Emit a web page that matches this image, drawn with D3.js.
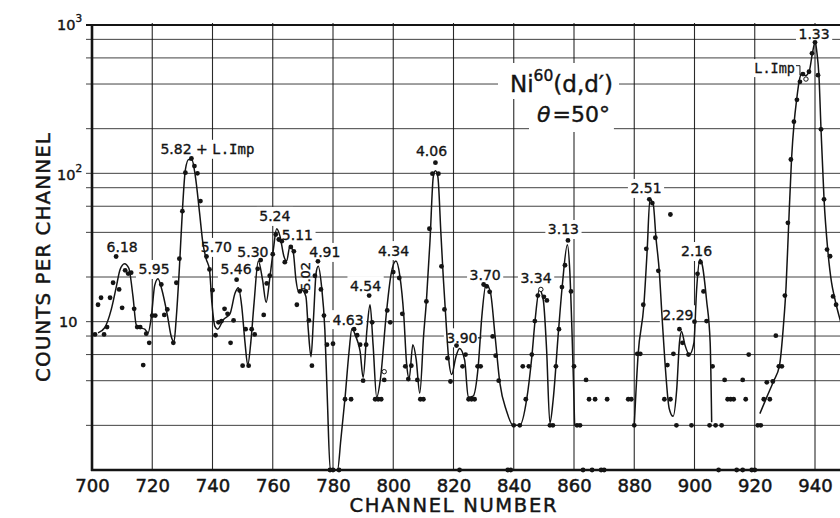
<!DOCTYPE html>
<html><head><meta charset="utf-8">
<script src="https://cdn.jsdelivr.net/npm/d3@7"></script>
<style>body{margin:0;background:#fff}svg{display:block}</style>
</head><body>
<svg id="c" width="840" height="518"></svg>
<script>
// ---------------- data ----------------
const xTicks = [700,720,740,760,780,800,820,840,860,880,900,920,940];
const yGrid = [2,4,6,8,10,20,40,60,80,100,200,400,600,800,1000];
const yLabels = [{v:10,t:"10",sup:""},{v:100,t:"10",sup:"2"},{v:1000,t:"10",sup:"3"}];

// measured counts per channel [channel, counts]
const dots = [
[701,8.2],[702,13],[703,14.5],[704,8.2],[705,9.2],[706,14.5],[707,18.3],[708,27.5],[709,16.5],[710,12.4],
[711,22.2],[712,21.1],[713,21.4],[714,12.2],[715,9.2],[716,9.2],[717,5.1],[718,8.3],[719,7.2],[720,11],
[721,11],[723,17.8],[724,11.1],[725,12.1],[727,7.2],[728,18.3],[729,26.6],[730,55.6],[731,101],[733,126],
[734,112],[735,100],[736,65],[738,27.5],[739,22.5],[740,16.3],[741,8.1],[742,9.9],[743,10.1],[744,12.2],
[745,11.3],[746,7.2],[747,10.2],[748,19.2],[749,16.2],[750,5.05],[751,8.9],[752,5.05],[753,8.9],[754,8.2],
[755,22.7],[756,26],[757,11.1],[758,18.1],[759,20.4],[760,28.5],[761,38.7],[762,35.8],[763,34.9],[764,25.2],
[766,31.9],[767,29.8],[768,13],[769,16],[771,16],[772,10.2],[773,5.05],[774,20.4],[775,25.5],[776,16.5],
[777,11],[778,7],[779,1],[780,1],[780,7.1],[782,1],[784,3],[786,3],[787,8.9],[788,8.1],[789,7],[790,4],
[791,7],[792,15],[793,9.9],[794,3],[795,3],[796,3],[797,4.05],[798,11.9],[799,9.9],[800,21.6],[802,19.7],
[803,11.3],[804,5],[805,4.1],[806,5.05],[808,4.05],[809,3],[810,3],[811,13.7],[812,42.3],[813,99.5],
[814,118],[815,99.5],[816,23.6],[817,12.1],[818,5.67],[819,3.95],[821,6.9],[822,1],[823,5],[824,6],
[825,3],[826,3],[827,3],[828,5],[829,5],[830,17.8],[831,17.3],[832,15.9],[833,7.95],[834,5.9],[835,4],
[838,1],[839,1],[840,2],[842,2],[843,5],[844,3],[845,5],[846,6],[847,10.1],[848,15],[850,14.7],[851,13.9],
[852,2],[853,2],[854,5],[855,8.9],[856,17.1],[857,24],[858,35.3],[859,16],[860,5],[861,2],[862,2],[863,1],
[864,4.05],[865,3],[866,1],[867,3],[869,1],[870,1],[871,3],[878,3],[879,3],[880,2],[881,6.07],[882,6.07],
[883,13],[884,31],[885,66.8],[886,63],[887,36.8],[888,22],[890,3],[891,5.1],[892,3],[892,52.8],[893,6.07],
[894,2],[895,8.9],[896,7.2],[898,6],[899,2],[900,10],[901,21],[902,25.2],[903,16],[904,10.1],[905,2],
[906,5],[907,2],[908,1],[909,2],[910,4.05],[911,3],[912,3],[913,3],[914,1],[916,1],[916,4.05],[917,3],
[918,6],[919,1],[920,1],[921,2],[922,2],[923,3],[924,3.9],[925,3],[926,3.95],[927,8.05],[928,5],[929,5],
[930,15],[931,46.4],[932,124],[933,223],[934,313],[935,414],[936,467],[938,484],[939,644],[940,764],
[941,459],[942,198],[943,66.8],[944,30.6],[945,27.6],[946,14.8],[947,13]
];
// open circles
const openDots = [[797,4.6],[849,16.5],[937,432]];

// hand-drawn fit curve, three pieces [channel, counts]
const curve1 = [
[702,8.4],[704.2,9.1],[706.4,12.1],[708.1,17.3],[709.3,22.4],[710.8,24.6],[712.2,23],[713.6,14.8],[714.7,9.5],
[716,9.1],[717.5,8.9],[718.6,8.4],[719.7,10.8],[720.8,17.5],[721.9,19.5],[723.2,16.4],[725,11.1],[726.3,7.95],
[727.2,7.3],[728,10.8],[729.1,24.9],[730,55.6],[731,106],[732.1,124],[733.2,123],[734.3,95.7],[735.7,54.3],
[736.8,34],[737.9,26.5],[739,22.4],[739.8,13.4],[740.8,9.3],[741.7,8.9],[743.6,10.3],[745.8,11.3],[747.5,15.6],
[748.6,16.9],[749.7,12.7],[750.8,7.2],[751.7,5.1],[752.7,7.2],[753.8,13.4],[755.2,25.6],[756.6,19.2],
[757.8,13.5],[759.1,20.3],[760.2,30.6],[761.3,42.3],[762.4,37.7],[763.7,27.6],[764.6,25.6],[765.7,32.3],
[766.8,29.4],[767.7,19.2],[768.5,16],[769.6,16.4],[771,14.8],[771.8,8.8],[772.7,5.8],[773.5,10.3],[774.4,21.3],
[775.1,23.6],[776.2,17.3],[777.3,8.8],[778.1,3.1],[779.1,1],[781.5,1],[782.6,1.6],[784,3.07],[785.3,6.2],
[786.3,9],[787.5,8],[789,6.3],[790,4.2],[791.3,9],[792.3,13],[793.3,7],[794.5,3.1],[795.8,4.2],[797.6,10.8],
[799.3,21],[800.9,25.6],[802.2,20.3],[803.5,11],[804.4,5.3],[805.3,4.15],[806.5,7],[807.6,5.6],[808.8,3.3],
[810.1,8.2],[811,13.7],[812.2,35],[813.3,95],[814,104],[814.8,95],[815.8,40],[816.6,20],[817.4,11],[818.4,5.6],
[819.4,4.4],[820.8,5.8],[822,6.6],[823.7,5.5],[824.9,3.1],[826.5,3.15],[828.2,5],[829.4,10.8],[830.8,17.8],
[832.2,16],[833.8,8],[835.4,3.85],[837.6,2.5],[839.8,2],[842,2],[844.3,3],[846,5.8],[847.1,10.3],[848.5,16.4],
[849.8,14],[850.9,6.5],[852,2.07],[853.1,3],[854.8,8.4],[856.2,18.3],[857.8,33],[858.6,22],[859.3,9],
[859.9,3.5],[860.2,2]
];
const curve2 = [
[880,2],[881.3,6.07],[883.2,13],[884.3,30.6],[885.2,67],[886.3,62],[887.2,37],[888.3,22],[889.2,11],[890.2,5.3],
[891.6,2.6],[892.9,2.3],[894.1,3.5],[895,7.2],[895.7,8.6],[896.8,7],[898.3,6],[899.8,7.2],[900.7,16.4],
[901.8,26.3],[902.6,24],[904,14],[905.2,7.2],[905.7,2.1]
];
const curve3 = [
[921.7,2.4],[924,3.1],[926.2,3.95],[928.2,5.05],[929.5,9.3],[930.4,17.3],[931.1,37.7],[932.2,124],[933.1,223],
[933.9,313],[934.7,414],[935.7,475],[936.8,455],[938.2,500],[939.1,640],[940.1,770],[940.6,660],[941.3,459],
[942,198],[943,67],[944.2,31],[945.5,18.3],[946.5,14.5],[948.5,10]
];

// excitation-energy labels (MeV) anchored at [channel, counts]
const peakLabels = [
{t:"6.18",ch:710,c:29.3},{t:"5.95",ch:720.6,c:20.8},{t:"5.70",ch:741.3,c:29.3},{t:"5.46",ch:747.8,c:20.8},
{t:"5.30",ch:753.4,c:27.1},{t:"5.24",ch:760.7,c:47.4},{t:"5.11",ch:768.2,c:35.8},{t:"4.91",ch:777.3,c:27.1},
{t:"4.63",ch:785,c:9.55},{t:"4.54",ch:790.8,c:16.2},{t:"4.34",ch:800.1,c:27.9},{t:"4.06",ch:812.7,c:130},
{t:"3.90",ch:822.8,c:7.2},{t:"3.70",ch:830.5,c:19.2},{t:"3.34",ch:847.4,c:18.1},{t:"3.13",ch:856.5,c:38.7},
{t:"2.51",ch:883.9,c:73.2},{t:"2.29",ch:894.5,c:10.3},{t:"2.16",ch:900.7,c:27.5},{t:"1.33",ch:939.7,c:804}
];
const rotLabel = {t:"5.02",ch:770.7,c:20.2};
const impLabel = {t1:"5.82 + ",t2:"L.Imp",ch:738.3,c:134.4};
const impLabel2 = {t:"L.Imp",ch:926.6,c:474};

// ---------------- drawing ----------------
const W=840,H=518, L=92, T=25, B=470;
const svg=d3.select("#c");
const x=d3.scaleLinear().domain([700,960]).range([L, L+260*3.0125]);
const y=d3.scaleLog().domain([1,1000]).range([B,T]);
const ink="#141414";
const FONT="'DejaVu Sans', Verdana, sans-serif";

svg.append("defs").append("clipPath").attr("id","pc")
  .append("rect").attr("x",L).attr("y",T-5).attr("width",W-L).attr("height",B-T+10);

// grid
const grid=svg.append("g");
grid.selectAll("line.h").data(yGrid).join("line")
  .attr("x1",L-6).attr("x2",W).attr("y1",d=>y(d)).attr("y2",d=>y(d))
  .attr("stroke",ink).attr("stroke-width",1).attr("opacity",0.8);
grid.selectAll("line.v").data(xTicks.filter(d=>d>700)).join("line")
  .attr("x1",d=>x(d)).attr("x2",d=>x(d)).attr("y1",T-2).attr("y2",B)
  .attr("stroke",ink).attr("stroke-width",1.1).attr("opacity",0.9);

const bgG=svg.append("g");   // white label backgrounds
const dataG=svg.append("g").attr("clip-path","url(#pc)");
const labG=svg.append("g");

// axes frame
svg.append("line").attr("x1",L).attr("x2",L).attr("y1",T-1).attr("y2",B+1).attr("stroke",ink).attr("stroke-width",2.6);
svg.append("line").attr("x1",L-1).attr("x2",W).attr("y1",B).attr("y2",B).attr("stroke",ink).attr("stroke-width",2.6);
svg.append("line").attr("x1",L-6).attr("x2",W).attr("y1",T).attr("y2",T).attr("stroke",ink).attr("stroke-width",2);

// x axis labels through d3 axis
const xa=svg.append("g").attr("transform",`translate(0,${B})`)
  .call(d3.axisBottom(x).tickValues(xTicks).tickSize(0).tickPadding(10).tickFormat(d3.format("d")));
xa.select(".domain").remove();
xa.selectAll("text").attr("font-family",FONT).attr("font-size",18).attr("fill",ink)
  .attr("stroke",ink).attr("stroke-width",0.5).attr("dy","0.71em").attr("y",9);

// y labels
yLabels.forEach(d=>{
  const yy=y(d.v);
  const t=svg.append("text").attr("font-family",FONT).attr("font-size",14.5).attr("fill",ink)
    .attr("stroke",ink).attr("stroke-width",0.4);
  if(d.sup){
    t.attr("x",57).attr("y",yy+ (d.v===1000?5:6.5)).attr("text-anchor","start");
    t.append("tspan").text(d.t);
    t.append("tspan").text(d.sup).attr("font-size",10.5).attr("dy",-8);
  } else {
    t.attr("x",77.5).attr("y",yy+5).attr("text-anchor","end").text(d.t);
  }
});

// axis titles
svg.append("text").attr("x",453).attr("y",512).attr("text-anchor","middle")
  .attr("font-family",FONT).attr("font-size",19.5).attr("fill",ink).attr("stroke",ink).attr("stroke-width",0.45)
  .attr("textLength",207).attr("lengthAdjust","spacing").text("CHANNEL NUMBER");
svg.append("text").attr("transform","translate(50,257.5) rotate(-90)").attr("text-anchor","middle")
  .attr("font-family",FONT).attr("font-size",20).attr("fill",ink).attr("stroke",ink).attr("stroke-width",0.45)
  .attr("textLength",249).attr("lengthAdjust","spacing").text("COUNTS PER CHANNEL");

// curves
const line=d3.line().x(d=>x(d[0])).y(d=>y(d[1])).curve(d3.curveMonotoneX);
[curve1,curve2,curve3].forEach(c=>{
  dataG.append("path").attr("d",line(c)).attr("fill","none").attr("stroke",ink).attr("stroke-width",1.5);
});
// dots
dataG.selectAll("circle.d").data(dots).join("circle")
  .attr("cx",d=>x(d[0])).attr("cy",d=>y(d[1])).attr("r",2.4).attr("fill",ink);
dataG.selectAll("circle.o").data(openDots).join("circle")
  .attr("cx",d=>x(d[0])).attr("cy",d=>y(d[1])).attr("r",2.2).attr("fill","#fff").attr("stroke",ink).attr("stroke-width",1);

// labels
function bg(node,pad){
  const b=node.getBBox();
  bgG.append("rect").attr("x",b.x-pad).attr("y",b.y-pad+1).attr("width",b.width+2*pad).attr("height",b.height+2*pad-2)
    .attr("fill","#fff");
}
function lab(t,px,py,anchor){
  return labG.append("text").attr("x",px).attr("y",py).attr("text-anchor",anchor||"middle")
    .attr("font-family",FONT).attr("font-size",14).attr("fill",ink).attr("stroke",ink).attr("stroke-width",0.35).text(t);
}
peakLabels.forEach(d=>{ const n=lab(d.t,x(d.ch),y(d.c)); bg(n.node(),2.5); });
// 3.90 pointer dash
(function(){
  const d=peakLabels.find(p=>p.t==="3.90");
  const b=labG.selectAll("text").filter(function(){return this.textContent==="3.90";}).node().getBBox();
  labG.append("line").attr("x1",b.x+b.width+0.5).attr("x2",b.x+b.width+4).attr("y1",y(d.c)-5).attr("y2",y(d.c)-5)
    .attr("stroke",ink).attr("stroke-width",1.2);
})();
// rotated 5.02
(function(){
  labG.append("text").attr("transform",`translate(${x(rotLabel.ch)+5},${y(rotLabel.c)}) rotate(-90)`)
    .attr("text-anchor","middle").attr("font-family",FONT).attr("font-size",13).attr("fill",ink)
    .attr("stroke",ink).attr("stroke-width",0.35).text(rotLabel.t);
})();
// 5.82 + L.Imp
(function(){
  const t=labG.append("text").attr("x",x(impLabel.ch)).attr("y",y(impLabel.c)).attr("text-anchor","middle")
    .attr("font-family",FONT).attr("font-size",14).attr("fill",ink).attr("stroke",ink).attr("stroke-width",0.35);
  t.append("tspan").text(impLabel.t1);
  t.append("tspan").text(impLabel.t2).attr("font-family","'DejaVu Sans Mono', 'Liberation Mono', monospace").attr("font-size",14);
  bg(t.node(),2.5);
})();
// L.Imp near 1.33 with bracket
(function(){
  const t=labG.append("text").attr("x",x(impLabel2.ch)).attr("y",y(impLabel2.c)).attr("text-anchor","middle")
    .attr("font-family","'DejaVu Sans Mono', 'Liberation Mono', monospace").attr("font-size",13.5).attr("fill",ink)
    .attr("stroke",ink).attr("stroke-width",0.3).text(impLabel2.t);
  const b=t.node().getBBox();
  bg(t.node(),2);
  const o=openDots[2];
  const ex=b.x+b.width+1, ey=b.y+b.height*0.35;
  labG.append("path").attr("d",`M${ex},${ey} H${ex+4} V${y(o[1])-4}`).attr("fill","none").attr("stroke",ink).attr("stroke-width",1);
})();

// reaction title
(function(){
  const t1=labG.append("text").attr("x",510).attr("y",92).attr("font-family",FONT).attr("font-size",23)
    .attr("fill",ink).attr("stroke",ink).attr("stroke-width",0.4);
  t1.append("tspan").text("Ni");
  t1.append("tspan").text("60").attr("font-size",15.5).attr("dy",-11);
  t1.append("tspan").text("(d,d\u2032)").attr("dy",11);
  const t2=labG.append("text").attr("x",537).attr("y",122).attr("font-family",FONT).attr("font-size",22)
    .attr("fill",ink).attr("stroke",ink).attr("stroke-width",0.4);
  t2.append("tspan").text("\u03B8").attr("font-style","italic");
  t2.append("tspan").text("=50\u00B0").attr("font-size",22).attr("dx",2);
  const b1=t1.node().getBBox(), b2=t2.node().getBBox();
  bgG.append("rect").attr("x",b1.x-12).attr("y",b1.y-4).attr("width",b1.width+18).attr("height",b1.height+6).attr("fill","#fff");
  bgG.append("rect").attr("x",b2.x-8).attr("y",b2.y-3).attr("width",b2.width+12).attr("height",b2.height+8).attr("fill","#fff");
})();
</script>
</body></html>
